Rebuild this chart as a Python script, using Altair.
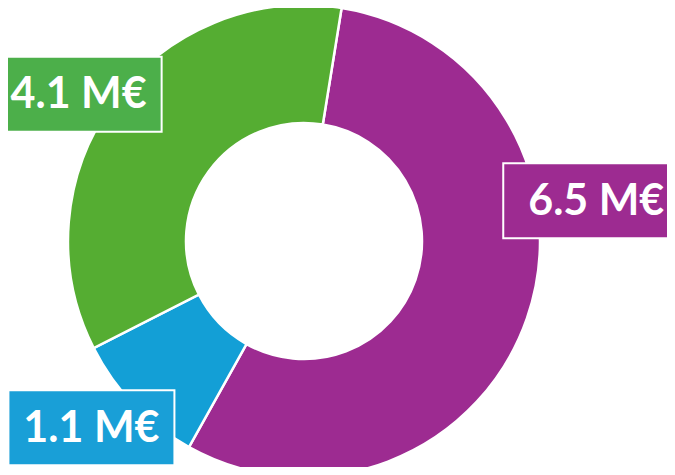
import math
import altair as alt
import pandas as pd

# ---- data ----
categories = ["Violet", "Bleu", "Vert"]
values = [6.5, 1.1, 4.1]
labels = ["6.5 M€", "1.1 M€", "4.1 M€"]
slice_colors = ["#9D2B91", "#139FD6", "#55AD32"]
box_colors = ["#9D2B91", "#199FD7", "#4CAF4A"]

df = pd.DataFrame({
    "cat": categories,
    "value": values,
    "label": labels,
    "idx": list(range(len(categories))),
})

# ---- layout / style ----
W, H = 659, 459
CX, CY = 296, 233          # donut centre (pixels)
R_OUT, R_IN = 236, 118
START = 0.16               # rotation of first slice (radians)

# label placement (polar nudges from slice mid-angle), box widths
label_nudge_deg = {"Violet": -27.0, "Bleu": 2.6, "Vert": -3.0}
label_radius = {"Violet": 295, "Bleu": 283, "Vert": 269}
box_width = {"Violet": 186, "Bleu": 166, "Vert": 166}
BOX_H = 75


def by_cat(d):
    expr = str(d[categories[-1]])
    for c in reversed(categories[:-1]):
        expr = f"(datum.cat === '{c}' ? {d[c]} : {expr})"
    return expr


xscale = alt.Scale(domain=[0, W], nice=False, zero=False)
yscale = alt.Scale(domain=[0, H], nice=False, zero=False, reverse=True)

arcs = alt.Chart(df).mark_arc(
    innerRadius=R_IN, outerRadius=R_OUT, stroke="white", strokeWidth=2.5
).encode(
    theta=alt.Theta("value:Q", stack=True,
                    scale=alt.Scale(range=[START, START + 2 * math.pi])),
    color=alt.Color("cat:N", scale=alt.Scale(domain=categories, range=slice_colors), legend=None),
    order=alt.Order("idx:Q"),
    x=alt.value(CX),
    y=alt.value(CY),
)

base = alt.Chart(df).transform_joinaggregate(
    total="sum(value)"
).transform_window(
    cum="sum(value)", sort=[alt.SortField("idx")], frame=[None, 0]
).transform_calculate(
    mid=f"{START} + 2*PI*(datum.cum - datum.value/2)/datum.total"
).transform_calculate(
    ang=f"datum.mid + ({by_cat(label_nudge_deg)})*PI/180",
    rad=by_cat(label_radius),
    bw=by_cat(box_width),
).transform_calculate(
    lx=f"{CX} + datum.rad*sin(datum.ang)",
    ly=f"{CY} - datum.rad*cos(datum.ang)",
).transform_calculate(
    x1="datum.lx - datum.bw/2",
    x2="datum.lx + datum.bw/2",
    y1=f"datum.ly - {BOX_H}/2",
    y2=f"datum.ly + {BOX_H}/2",
)

boxes = base.mark_rect(stroke="white", strokeWidth=2).encode(
    x=alt.X("x1:Q", scale=xscale, axis=None),
    x2="x2:Q",
    y=alt.Y("y1:Q", scale=yscale, axis=None),
    y2="y2:Q",
    fill=alt.Fill("cat:N", scale=alt.Scale(domain=categories, range=box_colors), legend=None),
)

texts = base.mark_text(
    font="Lato", fontWeight="bold", fontSize=43, color="white",
    align="center", baseline="middle", dy=1,
).encode(
    x=alt.X("lx:Q", scale=xscale, axis=None),
    y=alt.Y("ly:Q", scale=yscale, axis=None),
    text="label:N",
)

chart = alt.layer(arcs, boxes, texts).resolve_scale(
    color="independent"
).properties(
    width=W, height=H, autosize=alt.AutoSizeParams(type="none"), padding=0
).configure_view(stroke=None)

chart.save("out.html", embed_options={"renderer": "svg", "actions": False})
